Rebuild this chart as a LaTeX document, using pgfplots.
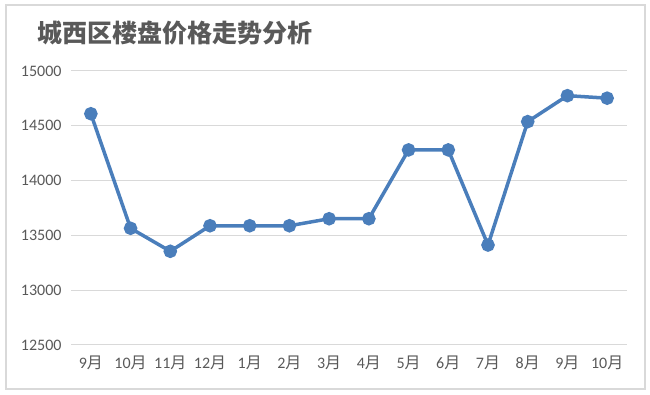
\documentclass[border=0pt]{standalone}
\usepackage{pgfplots}
\pgfplotsset{compat=1.18}
\usepackage{fontspec}
\setmainfont{Carlito}
\newfontfamily\cjk{Noto Sans CJK SC}
\definecolor{lineblue}{RGB}{74,126,187}
\definecolor{gridgray}{RGB}{217,217,217}
\definecolor{labelgray}{RGB}{89,89,89}
\newcommand{\yue}{{\cjk 月}}
\begin{document}
\begin{tikzpicture}[x=1pt,y=1pt]
\useasboundingbox (0,0) rectangle (650,395);
\draw[gridgray, line width=1.2pt] (6,6) rectangle (645,390);
\node[anchor=west, font=\cjk\bfseries\fontsize{25}{29}\selectfont, text=labelgray, inner sep=0pt] at (37,362) {城西区楼盘价格走势分析};
\begin{axis}[
  at={(71pt,50pt)}, anchor=south west, scale only axis,
  width=556pt, height=274pt,
  xmin=-0.5, xmax=13.5, ymin=12500, ymax=15000,
  ytick={12500,13000,13500,14000,14500,15000},
  scaled y ticks=false,
  yticklabel={\pgfmathprintnumber[fixed,precision=0,set thousands separator={}]{\tick}},
  xtick={0,...,13},
  xticklabels={9\yue,10\yue,11\yue,12\yue,1\yue,2\yue,3\yue,4\yue,5\yue,6\yue,7\yue,8\yue,9\yue,10\yue},
  axis line style={draw=none},
  ymajorgrids, grid style={gridgray, line width=1pt},
  major tick length=0pt,
  tick label style={font=\fontsize{16}{19}\selectfont, text=labelgray},
  /pgf/number format/assume math mode=true,
  yticklabel style={xshift=-6pt},
  xticklabel style={yshift=-7pt},
  clip=false,
]
\addplot[lineblue, line width=3.5pt, mark=*, mark size=5pt,
  mark options={fill=lineblue, draw=none}]
  coordinates {
  (0,14610) (1,13565) (2,13355) (3,13588) (4,13588) (5,13588) (6,13652)
  (7,13652) (8,14280) (9,14280) (10,13412) (11,14538) (12,14775) (13,14752)
  };
\end{axis}
\end{tikzpicture}
\end{document}
